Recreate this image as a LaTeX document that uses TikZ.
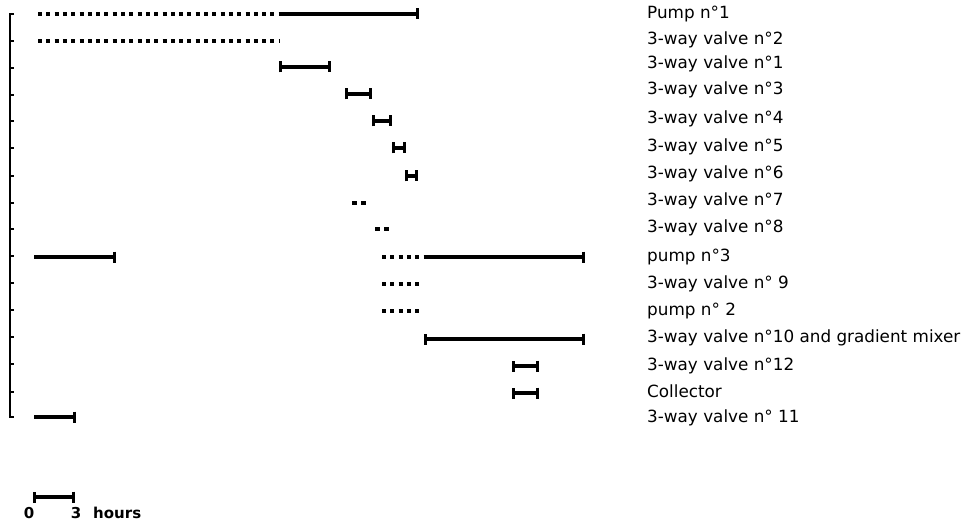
\documentclass[tikz,border=0pt]{standalone}
\usepackage{fontspec}
\setmainfont{DejaVu Sans}
\usetikzlibrary{arrows.meta}
\begin{document}
\begin{tikzpicture}[x=1pt,y=-1pt,
  bar/.style={line width=4pt},
  capboth/.style={bar,{Bar[width=11pt,line width=3pt]}-{Bar[width=11pt,line width=3pt]}},
  capright/.style={bar,-{Bar[width=11pt,line width=3pt]}},
  dotline/.style={line width=4pt,dash pattern=on 4pt off 4.3pt},
  lbl/.style={anchor=mid west,inner sep=0pt,font=\fontsize{16.8}{18}\selectfont},
  sclbl/.style={anchor=mid,inner sep=0pt,font=\fontsize{15}{18}\selectfont\bfseries},
  axis/.style={line width=1.6pt}]
\useasboundingbox (0,0) rectangle (975,524);
% axis
\draw[axis] (14,14) -- (10,14) -- (10,417) -- (14,417);
\foreach \yy in {41,68,95,121,148,176,203,229,256,283,310,337,364,392}
  \draw[axis] (10,\yy) -- (14,\yy);
% bars
\coordinate (r1a) at (38,14); \coordinate (r1b) at (279,14); \coordinate (r1c) at (419,14);
\draw[dotline] (r1a) -- (r1b);
\draw[capright] (r1b) -- (r1c);
\coordinate (r2a) at (38,41); \coordinate (r2b) at (279,41);
\draw[dotline] (r2a) -- (r2b);
\coordinate (r3a) at (279,67); \coordinate (r3b) at (331,67);
\draw[capboth] (r3a) -- (r3b);
\coordinate (r4a) at (345,94); \coordinate (r4b) at (372,94);
\draw[capboth] (r4a) -- (r4b);
\coordinate (r5a) at (372,121); \coordinate (r5b) at (392,121);
\draw[capboth] (r5a) -- (r5b);
\coordinate (r6a) at (392,148); \coordinate (r6b) at (406,148);
\draw[capboth] (r6a) -- (r6b);
\coordinate (r7a) at (405,176); \coordinate (r7b) at (418,176);
\draw[capboth] (r7a) -- (r7b);
\coordinate (r8a) at (352,203); \coordinate (r8b) at (366,203);
\draw[dotline,dash pattern=on 5pt off 4pt] (r8a) -- (r8b);
\coordinate (r9a) at (375,229); \coordinate (r9b) at (389,229);
\draw[dotline,dash pattern=on 5pt off 4pt] (r9a) -- (r9b);
\coordinate (r10a) at (34,257); \coordinate (r10b) at (116,257);
\draw[capright] (r10a) -- (r10b);
\coordinate (r10c) at (382,257); \coordinate (r10d) at (424,257); \coordinate (r10e) at (585,257);
\draw[dotline] (r10c) -- (r10d);
\draw[capright] (r10d) -- (r10e);
\coordinate (r11a) at (382,284); \coordinate (r11b) at (420,284);
\draw[dotline] (r11a) -- (r11b);
\coordinate (r12a) at (382,311); \coordinate (r12b) at (420,311);
\draw[dotline] (r12a) -- (r12b);
\coordinate (r13a) at (424,339); \coordinate (r13b) at (585,339);
\draw[capboth] (r13a) -- (r13b);
\coordinate (r14a) at (512,366); \coordinate (r14b) at (539,366);
\draw[capboth] (r14a) -- (r14b);
\coordinate (r15a) at (512,393); \coordinate (r15b) at (539,393);
\draw[capboth] (r15a) -- (r15b);
\coordinate (r16a) at (34,417); \coordinate (r16b) at (76,417);
\draw[capright] (r16a) -- (r16b);
% labels
\node[lbl] (l1) at (647,16) {Pump n°1};
\node[lbl] (l2) at (647,42) {3-way valve n°2};
\node[lbl] (l3) at (647,66) {3-way valve n°1};
\node[lbl] (l4) at (647,92) {3-way valve n°3};
\node[lbl] (l5) at (647,121) {3-way valve n°4};
\node[lbl] (l6) at (647,149) {3-way valve n°5};
\node[lbl] (l7) at (647,176) {3-way valve n°6};
\node[lbl] (l8) at (647,203) {3-way valve n°7};
\node[lbl] (l9) at (647,230) {3-way valve n°8};
\node[lbl] (l10) at (647,259) {pump n°3};
\node[lbl] (l11) at (647,286) {3-way valve n° 9};
\node[lbl] (l12) at (647,313) {pump n° 2};
\node[lbl] (l13) at (647,340) {3-way valve n°10 and gradient mixer};
\node[lbl] (l14) at (647,368) {3-way valve n°12};
\node[lbl] (l15) at (647,395) {Collector};
\node[lbl] (l16) at (647,420) {3-way valve n° 11};
% scale
\coordinate (s0) at (33,497); \coordinate (s3) at (75,497);
\draw[capboth] (s0) -- (s3);
\node[sclbl] (z0) at (29,516) {0};
\node[sclbl] (z3) at (76,516) {3};
\node[sclbl,anchor=mid west] (zh) at (93,516) {hours};
\end{tikzpicture}
\end{document}
